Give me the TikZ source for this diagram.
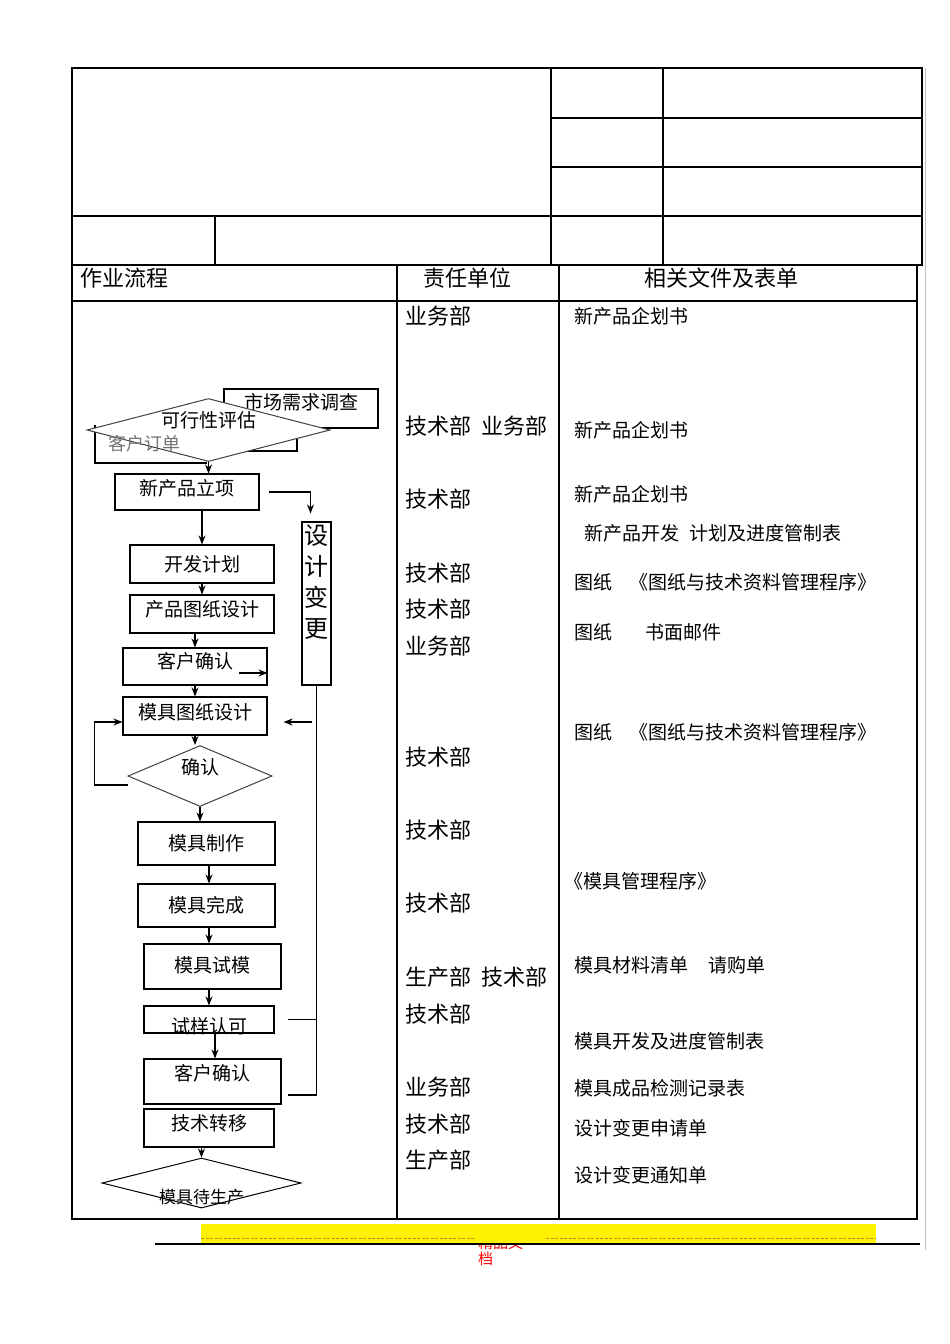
\documentclass[tikz,border=0pt]{standalone}
\usepackage{fontspec}
\newfontfamily\cjk{Noto Sans CJK SC}
\usetikzlibrary{shapes.geometric,arrows.meta,positioning}
\definecolor{dashbrown}{RGB}{190,140,50}
\tikzset{
  flowbox/.style={draw,rectangle,line width=1.1pt,inner sep=0pt,
    font=\cjk\fontsize{19}{22}\selectfont,text height=14pt,text depth=0pt},
  lift/.style={text depth=#1},
  decision/.style={draw=black!75,diamond,line width=1pt,inner sep=0pt,fill=white},
  dlabel/.style={font=\cjk\fontsize{19}{22}\selectfont},
  dept/.style={font=\cjk\fontsize{22}{26}\selectfont,anchor=west,inner sep=0pt},
  docitem/.style={font=\cjk\fontsize{19}{22}\selectfont,anchor=west,inner sep=0pt},
  thickline/.style={line width=1.6pt},
  thinline/.style={line width=1.1pt},
  flowarrow/.style={line width=1.1pt,-{Stealth[length=9pt,width=7pt]}},
  every edge/.style={draw,line width=1.1pt,-{Stealth[length=9pt,width=7pt]}},
}

\begin{document}
\begin{tikzpicture}[x=1pt,y=-1pt]
\useasboundingbox (0,0) rectangle (950,1344);

% header table
\draw[thickline] (72,68) rectangle (922,265);
\draw[thinline] (551,68) -- (551,265) (663,68) -- (663,265)
  (551,118) -- (922,118) (551,167) -- (922,167)
  (72,216) -- (922,216) (215,216) -- (215,265);
\draw[black!25,line width=0.8pt] (925,68) -- (925,1250);

% main table
\draw[thickline] (72,265) rectangle (917,1219);
\draw[thinline] (397,265) -- (397,1219) (559,265) -- (559,1219) (72,301) -- (917,301);

\node[dept] (hflow) at (80,278) {作业流程};
\node[dept,anchor=center] (hunit) at (467,278) {责任单位};
\node[dept,anchor=center] (hdocs) at (721,278) {相关文件及表单};

% flow chart
\node[flowbox,minimum width=154,minimum height=39,lift=12pt] (market) at (301,408.5) {市场需求调查};
\draw[line width=1.1pt] (95,425) |- (207,463);
\draw[line width=1.1pt] (297,425) |- (247,451);
\node[decision,minimum width=243,minimum height=63,
  label={[dlabel,yshift=10pt]center:可行性评估}] (feas) at (208.5,430) {};
\node[font=\cjk\fontsize{18}{20}\selectfont,text=black!55,anchor=west,inner sep=0pt] (order) at (108,444) {客户订单};

\node[flowbox,minimum width=144,minimum height=36,lift=8pt] (newprod) at (187,492) {新产品立项};
\node[flowbox,minimum width=144,minimum height=38] (plan) at (202,564) {开发计划};
\node[flowbox,minimum width=144,minimum height=38,lift=10pt] (drawing) at (202,614) {产品图纸设计};
\node[flowbox,minimum width=144,minimum height=37,lift=10pt] (confirma) at (195,666.5) {客户确认};
\node[flowbox,minimum width=144,minimum height=38,lift=8pt] (mould) at (195,716) {模具图纸设计};
\node[decision,minimum width=144,minimum height=61,
  label={[dlabel,yshift=9pt]center:确认}] (check) at (200,776) {};
\node[flowbox,minimum width=137,minimum height=43] (make) at (206.5,843.5) {模具制作};
\node[flowbox,minimum width=137,minimum height=43] (done) at (206.5,905.5) {模具完成};
\node[flowbox,minimum width=137,minimum height=45,lift=2pt] (trial) at (212.5,966.5) {模具试模};
\node[flowbox,minimum width=130,minimum height=27,text height=27pt] (sample) at (209,1019.5) {试样认可};
\node[flowbox,minimum width=137,minimum height=45,lift=17pt] (confirmb) at (212.5,1081.5) {客户确认};
\node[flowbox,minimum width=130,minimum height=38,lift=10pt] (transfer) at (209,1128) {技术转移};
\node[decision,draw=black,minimum width=199,minimum height=50,
  label={[font=\cjk\fontsize{17}{20}\selectfont,yshift=-14pt]center:模具待生产}] (wait) at (201.5,1183) {};
\node[flowbox,minimum width=29,minimum height=163,
  label={[align=center,font=\cjk\fontsize{24}{31}\selectfont,yshift=21pt]center:设\\计\\变\\更}] (change) at (316.5,603.5) {};

\coordinate (sx) at ([xshift=6pt]sample.south);
\path (feas.south) edge (feas.south |- newprod.north)
  (newprod.south -| plan.north) edge (plan.north)
  (plan.south) edge (drawing.north)
  (drawing.south -| confirma.north) edge (confirma.north)
  (confirma.south) edge (mould.north)
  (mould.south) edge (mould.south |- check.north)
  (check.south) edge (check.south |- make.north)
  (make.south -| sample.north) edge (done.north -| sample.north)
  (done.south -| sample.north) edge (trial.north -| sample.north)
  (trial.south -| sample.north) edge (sample.north)
  (sx) edge (sx |- confirmb.north)
  (transfer.south -| wait.north) edge (wait.north);

% design change loop
\draw[flowarrow] ([xshift=9pt]newprod.east) -| ([xshift=-6pt,yshift=8pt]change.north);
\coordinate (cx) at ([xshift=6pt,yshift=-13.5pt]confirmb.east);
\draw[line width=1.1pt] (change.south) |- (cx);
\draw[line width=1.1pt] ([xshift=13pt]sample.east) -- (change.south |- sample.east);
\draw[flowarrow] ([xshift=44pt,yshift=-6pt]mould.east) -- ([xshift=16pt,yshift=-6pt]mould.east);
\draw[flowarrow] ([xshift=-29pt,yshift=-6.5pt]confirma.east) -- ([yshift=-6.5pt]confirma.east);
\draw[flowarrow] ([yshift=-9pt]check.west) -- ++(-33,0) |- ([yshift=-6pt]mould.west);

% responsible units
\node[dept] (u1) at (405,316) {业务部};
\node[dept] (u2) at (405,426) {技术部\hspace{10pt}业务部};
\node[dept] (u3) at (405,499) {技术部};
\node[dept] (u4) at (405,573) {技术部};
\node[dept] (u5) at (405,609) {技术部};
\node[dept] (u6) at (405,646) {业务部};
\node[dept] (u7) at (405,757) {技术部};
\node[dept] (u8) at (405,830) {技术部};
\node[dept] (u9) at (405,903) {技术部};
\node[dept] (u10) at (405,977) {生产部\hspace{10pt}技术部};
\node[dept] (u11) at (405,1014) {技术部};
\node[dept] (u12) at (405,1087) {业务部};
\node[dept] (u13) at (405,1124) {技术部};
\node[dept] (u14) at (405,1160) {生产部};

% documents and forms
\node[docitem] (f1) at (574,316) {新产品企划书};
\node[docitem] (f2) at (574,430) {新产品企划书};
\node[docitem] (f3) at (574,494) {新产品企划书};
\node[docitem] (f4) at (584,533) {新产品开发\hspace{10pt}计划及进度管制表};
\node[docitem] (f5) at (574,582) {图纸\hspace{17pt}《图纸与技术资料管理程序》};
\node[docitem] (f6) at (574,632) {图纸\hspace{33pt}书面邮件};
\node[docitem] (f7) at (574,732) {图纸\hspace{17pt}《图纸与技术资料管理程序》};
\node[docitem] (f8) at (564,881) {《模具管理程序》};
\node[docitem] (f9) at (574,965) {模具材料清单\hspace{20pt}请购单};
\node[docitem] (f10) at (574,1041) {模具开发及进度管制表};
\node[docitem] (f11) at (574,1088) {模具成品检测记录表};
\node[docitem] (f12) at (574,1128) {设计变更申请单};
\node[docitem] (f13) at (574,1175) {设计变更通知单};

% footer
\node[text=red,font=\cjk\fontsize{15}{16}\selectfont,align=left,anchor=north west,inner sep=0pt] (mark) at (478,1236) {精品文\\档};
\fill[yellow] (201,1224) rectangle (876,1244);
\draw[dashbrown,line width=0.9pt,dash pattern=on 3pt off 1.5pt] (201,1238) -- (474,1238) (546,1238) -- (876,1238);
\draw[thickline] (155,1244) -- (920,1244);

\end{tikzpicture}
\end{document}
